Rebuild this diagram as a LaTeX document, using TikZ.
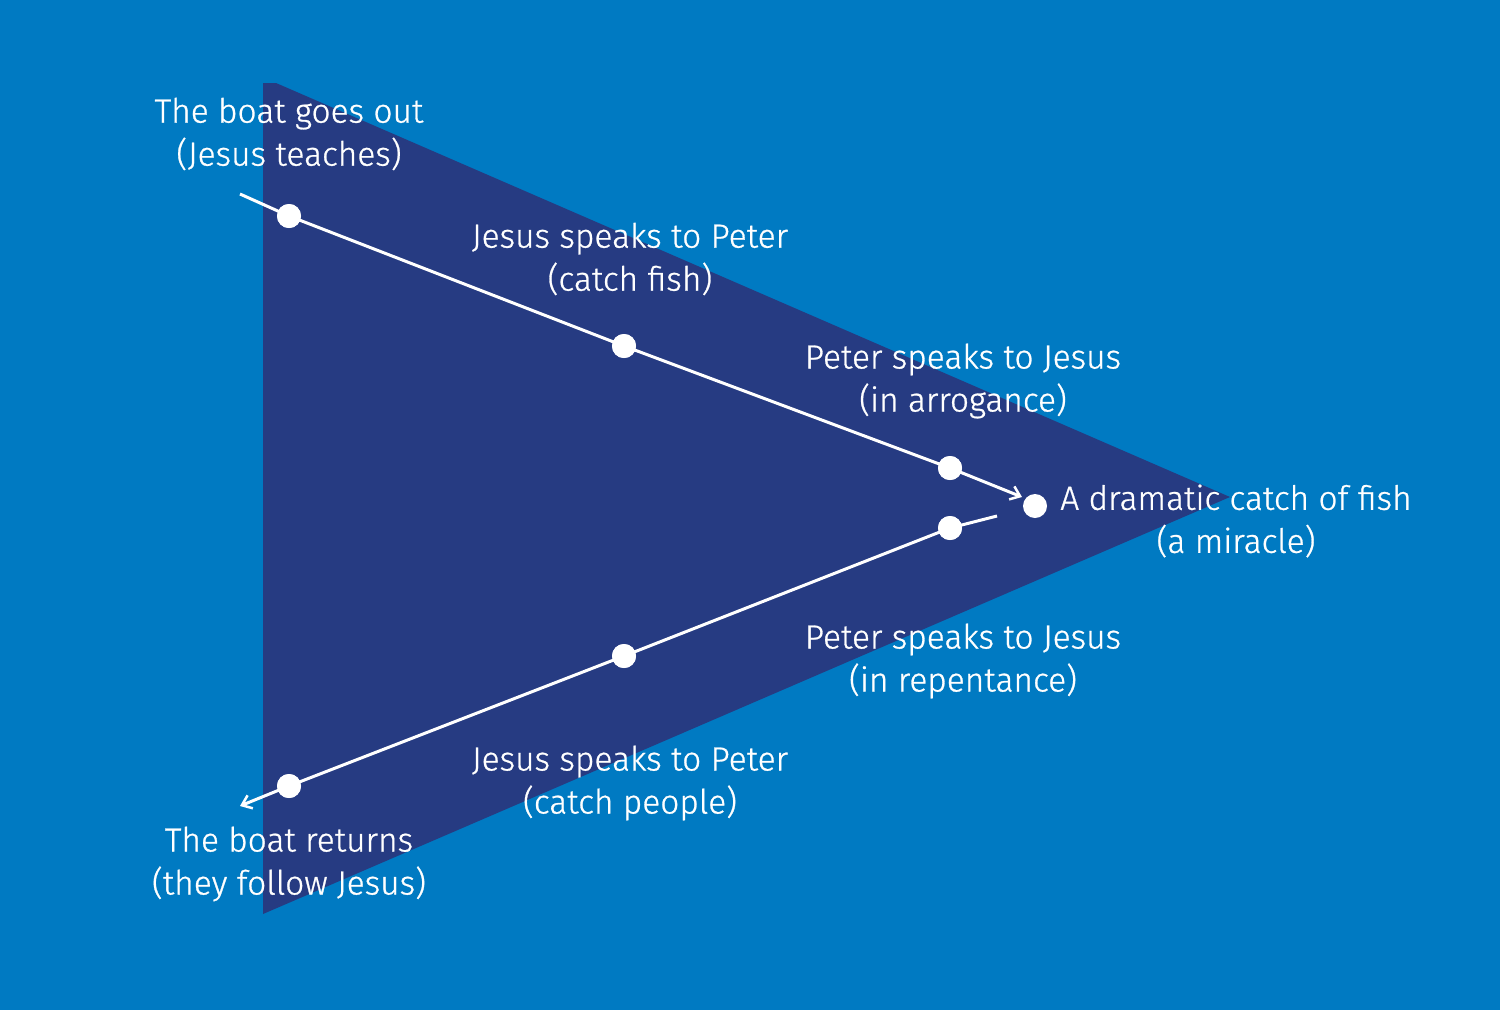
\documentclass[tikz,border=0pt]{standalone}
\usepackage{fontspec}
\setmainfont{Fira Sans Light}
\newfontfamily\lblfont{Fira Sans Light}[FakeBold=0.8]
\usetikzlibrary{arrows.meta}
\definecolor{bgblue}{HTML}{007AC2}
\definecolor{navy}{HTML}{263B82}
\begin{document}
\begin{tikzpicture}[x=1pt,y=-1pt,
  lbl/.style={text=white,align=center,font=\lblfont\fontsize{33.5}{43}\selectfont,inner sep=0pt},
  dot/.style={circle,fill=white,minimum width=24pt,minimum height=23pt,inner sep=0pt},
  path/.style={draw=white,line width=3pt},
  tip/.style={-{Straight Barb[length=9pt,width=14pt,line width=2.5pt]}}]
\fill[bgblue] (0,0) rectangle (1500,1010);
\useasboundingbox (0,0) rectangle (1500,1010);
\fill[navy] (263,83) -- (276,83) -- (1230,497) -- (263,914) -- cycle;
% upper line
\coordinate (s1) at (240,194);
\node[dot] (d1) at (289,216) {};
\node[dot] (d2) at (624,346) {};
\node[dot] (d3) at (950,468) {};
\coordinate (e1) at (1022,497);
\node[dot] (d4) at (1035,506) {};
% lower line
\coordinate (s2) at (997,516);
\node[dot] (d5) at (950,528) {};
\node[dot] (d6) at (624,656) {};
\node[dot] (d7) at (289,786) {};
\coordinate (e2) at (240,806);
\draw[path] (s1) -- (d1.center) -- (d2.center) -- (d3.center);
\draw[path,tip] (d3.center) -- (e1);
\draw[path] (s2) -- (d5.center) -- (d6.center) -- (d7.center);
\draw[path,tip] (d7.center) -- (e2);
\node[dot] at (d1) {};\node[dot] at (d2) {};\node[dot] at (d3) {};
\node[dot] at (d5) {};\node[dot] at (d6) {};\node[dot] at (d7) {};
% labels
\node[lbl] (t1) at (289,134) {The boat goes out\\(Jesus teaches)};
\node[lbl] (t2) at (630,259) {Jesus speaks to Peter\\(catch fish)};
\node[lbl] (t3) at (963,381) {Peter speaks to Jesus\\(in arrogance)};
\node[lbl] (t4) at (1236,521) {A dramatic catch of fish\\(a miracle)};
\node[lbl] (t5) at (963,661) {Peter speaks to Jesus\\(in repentance)};
\node[lbl] (t6) at (630,783) {Jesus speaks to Peter\\(catch people)};
\node[lbl] (t7) at (289,864) {The boat returns\\(they follow Jesus)};
\end{tikzpicture}
\end{document}
